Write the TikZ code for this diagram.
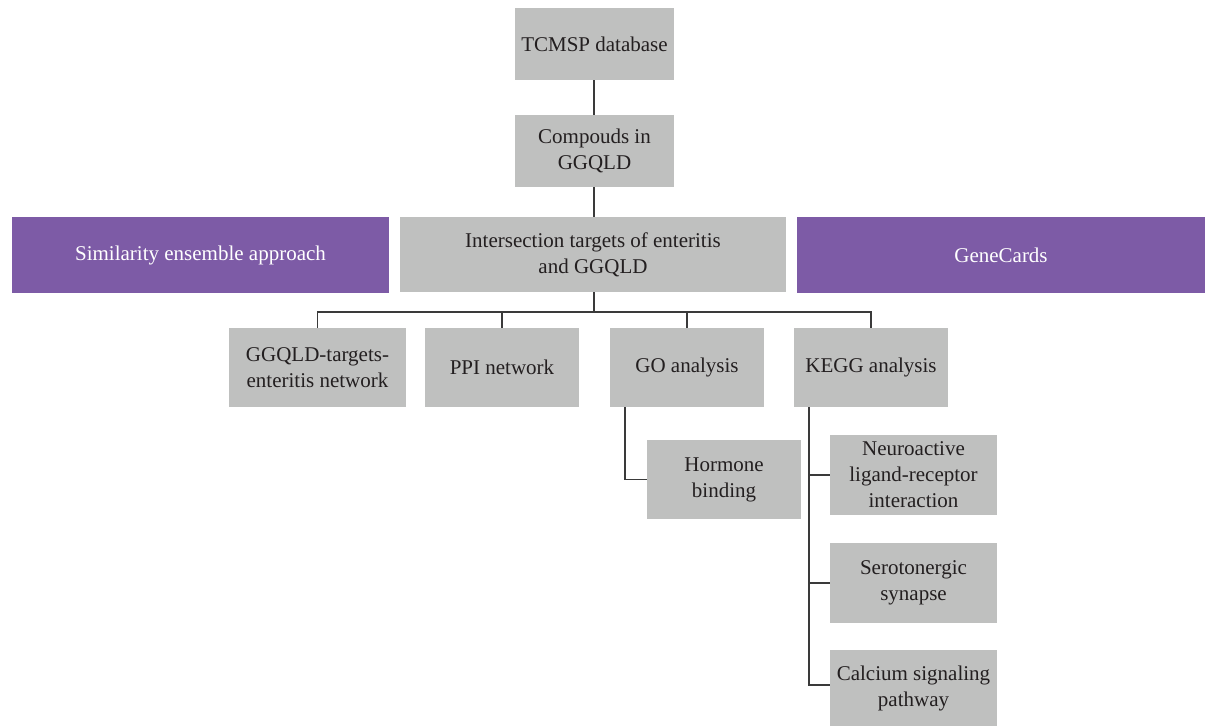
\documentclass[tikz,border=0pt]{standalone}
\usepackage{fontspec}
\setmainfont{Liberation Serif}
\definecolor{boxgray}{HTML}{BFC0BF}
\definecolor{boxpurple}{HTML}{7D5BA6}
\definecolor{txt}{HTML}{231F20}
\definecolor{linec}{HTML}{3A3A3A}
\tikzset{
  gbox/.style={fill=boxgray, text=txt, inner sep=0pt, align=center,
    font=\fontsize{21}{26}\selectfont},
  pbox/.style={fill=boxpurple, text=white, inner sep=0pt, align=center,
    font=\fontsize{21}{26}\selectfont},
  conn/.style={draw=linec, line width=1.4pt}
}
\begin{document}
\begin{tikzpicture}[x=1pt,y=-1pt]
\useasboundingbox (0,0) rectangle (1218,726);
\node[gbox, minimum width=159, minimum height=72] (tcmsp) at (594.5,44) {TCMSP database};
\node[gbox, minimum width=159, minimum height=72] (comp) at (594.5,151) {Compouds in\\GGQLD};
\node[pbox, minimum width=377, minimum height=76] (sea) at (200.5,255) {Similarity ensemble approach};
\node[gbox, minimum width=386, minimum height=75] (inter) at (593,254.5) {Intersection targets of enteritis\\and GGQLD};
\node[pbox, minimum width=408, minimum height=76] (gc) at (1001,255) {GeneCards};
\node[gbox, minimum width=177, minimum height=79] (net) at (317.5,367.5) {GGQLD-targets-\\enteritis network};
\node[gbox, minimum width=154, minimum height=79] (ppi) at (502,367.5) {PPI network};
\node[gbox, minimum width=154, minimum height=79] (go) at (687,367.5) {GO analysis};
\node[gbox, minimum width=154, minimum height=79] (kegg) at (871,367.5) {KEGG analysis};
\node[gbox, minimum width=154, minimum height=79] (horm) at (724,479.5) {Hormone\\binding};
\node[gbox, minimum width=167, minimum height=80] (neuro) at (913.5,475) {Neuroactive\\ligand-receptor\\interaction};
\node[gbox, minimum width=167, minimum height=80] (sero) at (913.5,583) {Serotonergic\\synapse};
\node[gbox, minimum width=167, minimum height=76] (calc) at (913.5,688) {Calcium signaling\\pathway};
\coordinate (bus) at (0,312);
\draw[conn] ([xshift=1pt]inter.north |- tcmsp.south) -- ([xshift=1pt]inter.north |- comp.north);
\draw[conn] ([xshift=1pt]inter.north |- comp.south) -- ([xshift=1pt]inter.north);
\draw[conn] ([xshift=1pt]inter.south) -- ([xshift=1pt]inter.south |- bus);
\draw[conn] (net.north) -- (net.north |- bus) -- (kegg.north |- bus) -- (kegg.north);
\draw[conn] (ppi.north) -- (ppi.north |- bus);
\draw[conn] (go.north) -- (go.north |- bus);
\draw[conn] ([xshift=-62pt]go.south) |- (horm.west);
\draw[conn] ([xshift=-62pt]kegg.south) |- (neuro.west);
\draw[conn] ([xshift=-62pt]kegg.south) |- (sero.west);
\draw[conn] ([xshift=-62pt]kegg.south) |- ([yshift=3pt]calc.west);
\end{tikzpicture}
\end{document}
